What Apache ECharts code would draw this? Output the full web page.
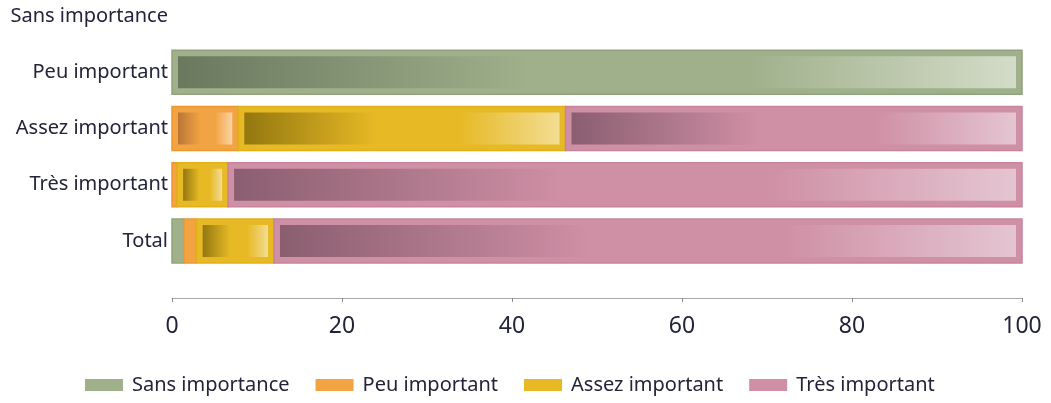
<!DOCTYPE html>
<html>
<head>
<meta charset="utf-8">
<script src="https://cdn.jsdelivr.net/npm/echarts@6/dist/echarts.min.js"></script>
<style>
  html, body { margin: 0; padding: 0; background: #fff; }
  #chart { width: 1051px; height: 403px; }
</style>
</head>
<body>
<div id="chart"></div>
<script>
// Rows, bottom to top
const categories = ['Total', 'Très important', 'Assez important', 'Peu important', 'Sans importance'];
const seriesNames = ['Sans importance', 'Peu important', 'Assez important', 'Très important'];

// Share (%) per row, same order as categories
const sansImportance = [1.4, 0, 0, 100, 0];
const peuImportant   = [1.5, 0.6, 7.8, 0, 0];
const assezImportant = [9.1, 6.0, 38.5, 0, 0];
const tresImportant  = [88.0, 93.4, 53.7, 0, 0];

const xTicks = [0, 20, 40, 60, 80, 100];

// Palette per level: base fill, edge, dark start and light end of the inner sheen
const palette = [
  { base: '#a0b08b', edge: '#91a37c', dark: '#6a785e', light: '#d3dcc8' },
  { base: '#f2a343', edge: '#f0982c', dark: '#bb7636', light: '#f9d4a6' },
  { base: '#e7b925', edge: '#e2b11a', dark: '#937710', light: '#f2dd92' },
  { base: '#cf8fa5', edge: '#c8849a', dark: '#8a5e70', light: '#e4c5d1' }
];

const values = [sansImportance, peuImportant, assezImportant, tresImportant];

// Stack each level on top of the previous ones: [row, start, end]
const running = categories.map(() => 0);
const stacked = values.map(arr => arr.map((v, i) => {
  const s = running[i];
  running[i] += v;
  return [i, s, s + v];
}));

function makeRender(pal) {
  return function (params, api) {
    const row = api.value(0);
    const start = api.value(1);
    const end = api.value(2);
    if (end - start <= 0) return null;
    const p0 = api.coord([start, row]);
    const p1 = api.coord([end, row]);
    // spacing between neighbouring rows
    const step = Math.abs(api.coord([0, 1])[1] - api.coord([0, 0])[1]);
    const h = step * 0.78;
    const x = p0[0], w = p1[0] - p0[0], y = p0[1] - h / 2;
    const children = [{
      type: 'rect',
      shape: { x: x, y: y, width: w, height: h },
      style: { fill: pal.base, stroke: pal.edge, lineWidth: 1.5 }
    }];
    const inset = 6;
    if (w > inset * 2 + 2) {
      children.push({
        type: 'rect',
        shape: { x: x + inset, y: y + inset, width: w - inset * 2, height: h - inset * 2 },
        style: {
          fill: {
            type: 'linear', x: 0, y: 0, x2: 1, y2: 0,
            colorStops: [
              { offset: 0, color: pal.dark },
              { offset: 0.42, color: pal.base },
              { offset: 0.68, color: pal.base },
              { offset: 1, color: pal.light }
            ]
          }
        }
      });
    }
    return { type: 'group', children: children };
  };
}

const textColor = '#23233a';
const font = 'Noto Sans';

const chart = echarts.init(document.getElementById('chart'), null, { renderer: 'canvas' });
chart.setOption({
  animation: false,
  textStyle: { fontFamily: font },
  grid: { left: 172, right: 29, top: 16, bottom: 162 },
  legend: {
    left: 80,
    top: 370,
    itemWidth: 38,
    itemHeight: 12,
    itemGap: 26,
    icon: 'rect',
    data: seriesNames,
    textStyle: { fontFamily: font, fontSize: 20, color: textColor, padding: [0, 0, 0, 4] }
  },
  xAxis: {
    type: 'value',
    min: xTicks[0],
    max: xTicks[xTicks.length - 1],
    interval: xTicks[1] - xTicks[0],
    offset: 57,
    axisLine: { show: true, lineStyle: { color: '#a8a8a8', width: 1 } },
    axisTick: { show: true, length: 4, lineStyle: { color: '#8a8a8a' } },
    splitLine: { show: false },
    axisLabel: { fontFamily: font, fontSize: 23, color: textColor, margin: 17 }
  },
  yAxis: {
    type: 'category',
    data: categories,
    boundaryGap: false,
    axisLine: { show: false },
    axisTick: { show: false },
    splitLine: { show: false },
    axisLabel: { fontFamily: font, fontSize: 20, color: textColor, margin: 4 }
  },
  series: seriesNames.map((name, k) => ({
    type: 'custom',
    name: name,
    clip: false,
    itemStyle: { color: palette[k].base },
    encode: { x: [1, 2], y: 0 },
    renderItem: makeRender(palette[k]),
    data: stacked[k]
  }))
});
</script>
</body>
</html>
